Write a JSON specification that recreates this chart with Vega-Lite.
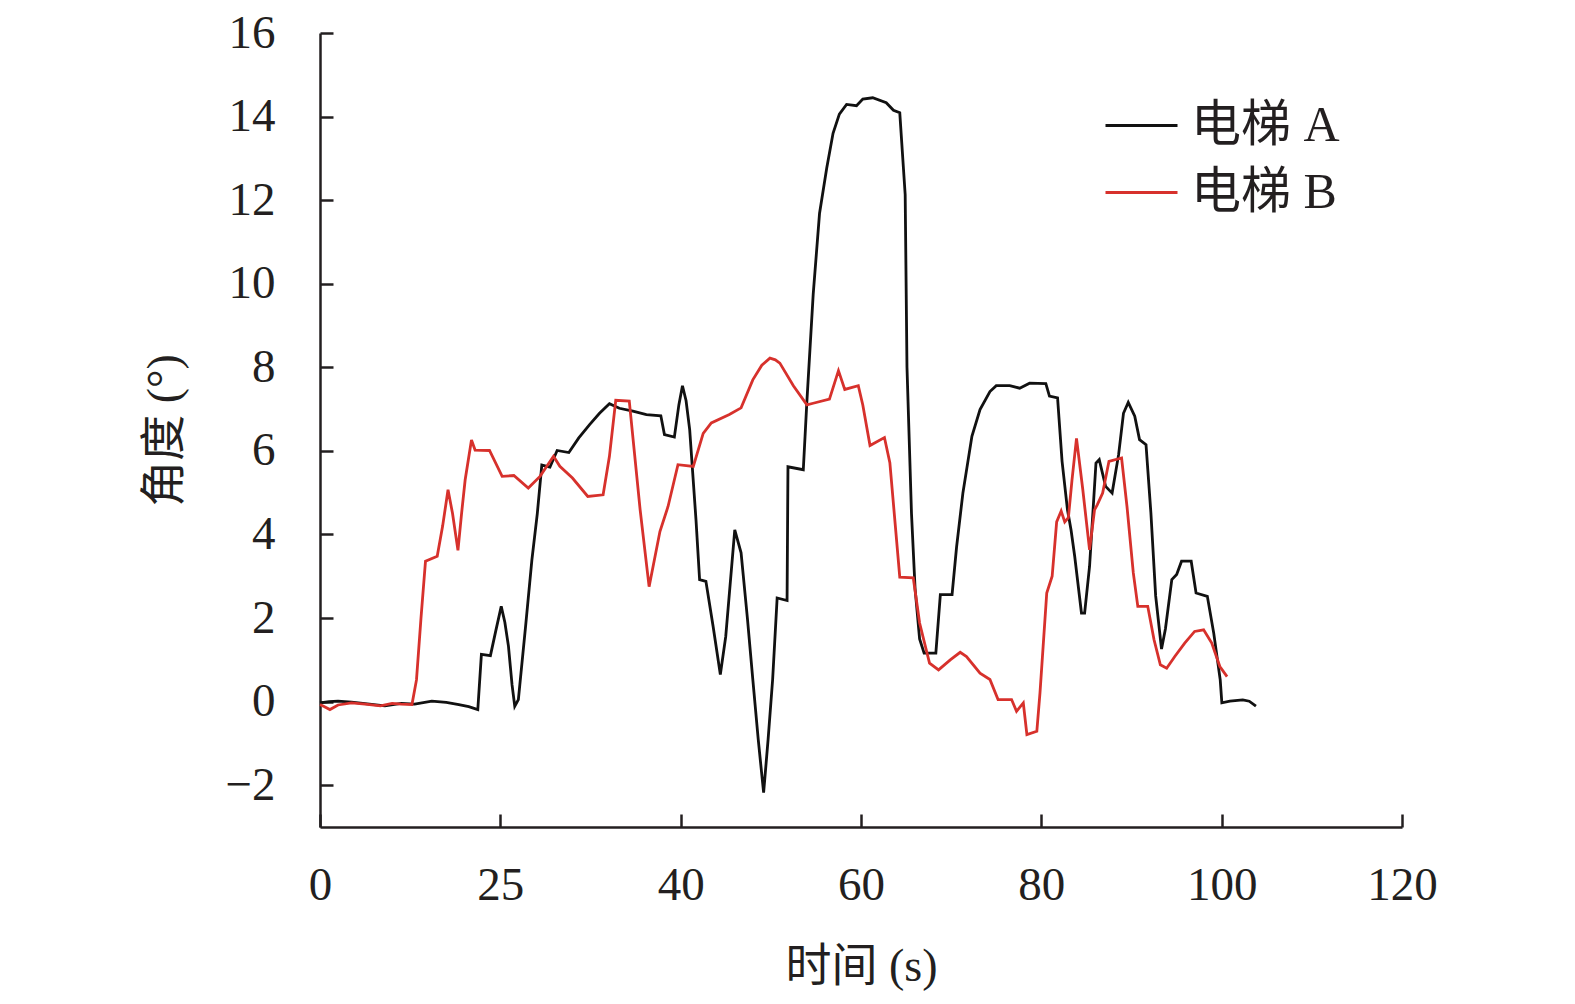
{
  "$schema": "https://vega.github.io/schema/vega-lite/v6.json",
  "width": 1082,
  "height": 794,
  "autosize": "none",
  "padding": {"left": 320, "top": 33, "right": 173, "bottom": 177},
  "background": "white",
  "config": {
    "view": {"stroke": null},
    "font": "Liberation Serif, Noto Sans CJK SC",
    "axis": {
      "grid": false,
      "domainColor": "#231f20",
      "domainWidth": 2.5,
      "tickColor": "#231f20",
      "tickWidth": 2.5,
      "tickSize": -13,
      "labelFont": "Liberation Serif, Noto Sans CJK SC",
      "labelFontSize": 47,
      "labelColor": "#231f20",
      "labelFlush": false,
      "titleFont": "Liberation Serif, Noto Sans CJK SC",
      "titleFontSize": 46,
      "titleFontWeight": "normal",
      "titleColor": "#231f20"
    },
    "legend": {
      "labelFont": "Liberation Serif, Noto Sans CJK SC",
      "labelFontSize": 50,
      "labelColor": "#231f20"
    }
  },
  "data": {
    "values": [
      {"t": 0, "v": -0.03, "s": "电梯 A"},
      {"t": 1.0, "v": 0.0, "s": "电梯 A"},
      {"t": 2.0, "v": 0.01, "s": "电梯 A"},
      {"t": 3.5, "v": -0.01, "s": "电梯 A"},
      {"t": 5.0, "v": -0.05, "s": "电梯 A"},
      {"t": 7.2, "v": -0.1, "s": "电梯 A"},
      {"t": 9.0, "v": -0.04, "s": "电梯 A"},
      {"t": 10.5, "v": -0.06, "s": "电梯 A"},
      {"t": 12.4, "v": 0.01, "s": "电梯 A"},
      {"t": 14.0, "v": -0.02, "s": "电梯 A"},
      {"t": 15.4, "v": -0.07, "s": "电梯 A"},
      {"t": 16.5, "v": -0.12, "s": "电梯 A"},
      {"t": 17.5, "v": -0.19, "s": "电梯 A"},
      {"t": 17.9, "v": 1.13, "s": "电梯 A"},
      {"t": 18.9, "v": 1.1, "s": "电梯 A"},
      {"t": 19.5, "v": 1.7, "s": "电梯 A"},
      {"t": 20.1, "v": 2.28, "s": "电梯 A"},
      {"t": 20.5, "v": 1.9, "s": "电梯 A"},
      {"t": 20.9, "v": 1.33, "s": "电梯 A"},
      {"t": 21.3, "v": 0.4, "s": "电梯 A"},
      {"t": 21.6, "v": -0.11, "s": "电梯 A"},
      {"t": 22.0, "v": 0.05, "s": "电梯 A"},
      {"t": 22.8, "v": 1.8, "s": "电梯 A"},
      {"t": 23.5, "v": 3.39, "s": "电梯 A"},
      {"t": 24.1, "v": 4.5, "s": "电梯 A"},
      {"t": 24.6, "v": 5.66, "s": "电梯 A"},
      {"t": 25.5, "v": 5.61, "s": "电梯 A"},
      {"t": 26.3, "v": 6.01, "s": "电梯 A"},
      {"t": 27.6, "v": 5.96, "s": "电梯 A"},
      {"t": 28.7, "v": 6.31, "s": "电梯 A"},
      {"t": 29.9, "v": 6.63, "s": "电梯 A"},
      {"t": 31.0, "v": 6.9, "s": "电梯 A"},
      {"t": 32.1, "v": 7.13, "s": "电梯 A"},
      {"t": 33.2, "v": 7.02, "s": "电梯 A"},
      {"t": 34.7, "v": 6.95, "s": "电梯 A"},
      {"t": 36.2, "v": 6.87, "s": "电梯 A"},
      {"t": 37.8, "v": 6.84, "s": "电梯 A"},
      {"t": 38.2, "v": 6.39, "s": "电梯 A"},
      {"t": 39.3, "v": 6.33, "s": "电梯 A"},
      {"t": 39.8, "v": 7.1, "s": "电梯 A"},
      {"t": 40.2, "v": 7.56, "s": "电梯 A"},
      {"t": 40.6, "v": 7.2, "s": "电梯 A"},
      {"t": 41.0, "v": 6.51, "s": "电梯 A"},
      {"t": 41.7, "v": 4.35, "s": "电梯 A"},
      {"t": 42.1, "v": 2.92, "s": "电梯 A"},
      {"t": 42.8, "v": 2.88, "s": "电梯 A"},
      {"t": 43.6, "v": 1.8, "s": "电梯 A"},
      {"t": 44.4, "v": 0.65, "s": "电梯 A"},
      {"t": 45.0, "v": 1.56, "s": "电梯 A"},
      {"t": 46.0, "v": 4.11, "s": "电梯 A"},
      {"t": 46.7, "v": 3.56, "s": "电梯 A"},
      {"t": 47.4, "v": 2.0, "s": "电梯 A"},
      {"t": 48.0, "v": 0.53, "s": "电梯 A"},
      {"t": 48.6, "v": -0.9, "s": "电梯 A"},
      {"t": 49.2, "v": -2.18, "s": "电梯 A"},
      {"t": 49.7, "v": -0.9, "s": "电梯 A"},
      {"t": 50.2, "v": 0.53, "s": "电梯 A"},
      {"t": 50.7, "v": 2.48, "s": "电梯 A"},
      {"t": 51.8, "v": 2.42, "s": "电梯 A"},
      {"t": 51.9, "v": 5.62, "s": "电梯 A"},
      {"t": 53.6, "v": 5.55, "s": "电梯 A"},
      {"t": 54.0, "v": 7.19, "s": "电梯 A"},
      {"t": 54.7, "v": 9.75, "s": "电梯 A"},
      {"t": 55.4, "v": 11.68, "s": "电梯 A"},
      {"t": 56.2, "v": 12.77, "s": "电梯 A"},
      {"t": 56.9, "v": 13.6, "s": "电梯 A"},
      {"t": 57.6, "v": 14.06, "s": "电梯 A"},
      {"t": 58.4, "v": 14.29, "s": "电梯 A"},
      {"t": 59.5, "v": 14.26, "s": "电梯 A"},
      {"t": 60.2, "v": 14.42, "s": "电梯 A"},
      {"t": 61.3, "v": 14.45, "s": "电梯 A"},
      {"t": 62.8, "v": 14.33, "s": "电梯 A"},
      {"t": 63.6, "v": 14.15, "s": "电梯 A"},
      {"t": 64.3, "v": 14.09, "s": "电梯 A"},
      {"t": 64.9, "v": 12.13, "s": "电梯 A"},
      {"t": 65.1, "v": 8.0, "s": "电梯 A"},
      {"t": 65.6, "v": 4.5, "s": "电梯 A"},
      {"t": 66.0, "v": 2.7, "s": "电梯 A"},
      {"t": 66.5, "v": 1.5, "s": "电梯 A"},
      {"t": 67.0, "v": 1.16, "s": "电梯 A"},
      {"t": 68.3, "v": 1.16, "s": "电梯 A"},
      {"t": 68.8, "v": 2.56, "s": "电梯 A"},
      {"t": 70.1, "v": 2.56, "s": "电梯 A"},
      {"t": 70.6, "v": 3.7, "s": "电梯 A"},
      {"t": 71.3, "v": 4.99, "s": "电梯 A"},
      {"t": 72.3, "v": 6.35, "s": "电梯 A"},
      {"t": 73.2, "v": 6.99, "s": "电梯 A"},
      {"t": 74.3, "v": 7.42, "s": "电梯 A"},
      {"t": 75.0, "v": 7.56, "s": "电梯 A"},
      {"t": 76.5, "v": 7.56, "s": "电梯 A"},
      {"t": 77.6, "v": 7.5, "s": "电梯 A"},
      {"t": 78.7, "v": 7.62, "s": "电梯 A"},
      {"t": 80.5, "v": 7.61, "s": "电梯 A"},
      {"t": 80.9, "v": 7.31, "s": "电梯 A"},
      {"t": 81.8, "v": 7.27, "s": "电梯 A"},
      {"t": 82.3, "v": 5.75, "s": "电梯 A"},
      {"t": 82.9, "v": 4.59, "s": "电梯 A"},
      {"t": 83.3, "v": 4.1, "s": "电梯 A"},
      {"t": 83.7, "v": 3.48, "s": "电梯 A"},
      {"t": 84.45, "v": 2.12, "s": "电梯 A"},
      {"t": 84.8, "v": 2.12, "s": "电梯 A"},
      {"t": 85.35, "v": 3.24, "s": "电梯 A"},
      {"t": 86.06, "v": 5.71, "s": "电梯 A"},
      {"t": 86.42, "v": 5.79, "s": "电梯 A"},
      {"t": 87.13, "v": 5.15, "s": "电梯 A"},
      {"t": 87.85, "v": 4.99, "s": "电梯 A"},
      {"t": 88.57, "v": 5.91, "s": "电梯 A"},
      {"t": 89.11, "v": 6.9, "s": "电梯 A"},
      {"t": 89.64, "v": 7.16, "s": "电梯 A"},
      {"t": 90.36, "v": 6.83, "s": "电梯 A"},
      {"t": 90.89, "v": 6.27, "s": "电梯 A"},
      {"t": 91.61, "v": 6.15, "s": "电梯 A"},
      {"t": 92.15, "v": 4.52, "s": "电梯 A"},
      {"t": 92.68, "v": 2.53, "s": "电梯 A"},
      {"t": 93.33, "v": 1.26, "s": "电梯 A"},
      {"t": 93.76, "v": 1.74, "s": "电梯 A"},
      {"t": 94.47, "v": 2.92, "s": "电梯 A"},
      {"t": 95.01, "v": 3.04, "s": "电梯 A"},
      {"t": 95.55, "v": 3.36, "s": "电梯 A"},
      {"t": 96.62, "v": 3.36, "s": "电梯 A"},
      {"t": 97.16, "v": 2.6, "s": "电梯 A"},
      {"t": 98.41, "v": 2.52, "s": "电梯 A"},
      {"t": 99.12, "v": 1.64, "s": "电梯 A"},
      {"t": 99.84, "v": 0.52, "s": "电梯 A"},
      {"t": 100.02, "v": -0.03, "s": "电梯 A"},
      {"t": 100.91, "v": 0.01, "s": "电梯 A"},
      {"t": 102.34, "v": 0.04, "s": "电梯 A"},
      {"t": 103.06, "v": 0.01, "s": "电梯 A"},
      {"t": 103.8, "v": -0.11, "s": "电梯 A"},

      {"t": 0, "v": -0.07, "s": "电梯 B"},
      {"t": 0.5, "v": -0.12, "s": "电梯 B"},
      {"t": 1.1, "v": -0.19, "s": "电梯 B"},
      {"t": 2.0, "v": -0.08, "s": "电梯 B"},
      {"t": 3.5, "v": -0.03, "s": "电梯 B"},
      {"t": 5.0, "v": -0.06, "s": "电梯 B"},
      {"t": 6.7, "v": -0.1, "s": "电梯 B"},
      {"t": 8.0, "v": -0.04, "s": "电梯 B"},
      {"t": 9.0, "v": -0.06, "s": "电梯 B"},
      {"t": 10.2, "v": -0.07, "s": "电梯 B"},
      {"t": 10.7, "v": 0.52, "s": "电梯 B"},
      {"t": 11.2, "v": 2.0, "s": "电梯 B"},
      {"t": 11.7, "v": 3.36, "s": "电梯 B"},
      {"t": 13.0, "v": 3.48, "s": "电梯 B"},
      {"t": 13.6, "v": 4.2, "s": "电梯 B"},
      {"t": 14.2, "v": 5.07, "s": "电梯 B"},
      {"t": 14.7, "v": 4.5, "s": "电梯 B"},
      {"t": 15.3, "v": 3.62, "s": "电梯 B"},
      {"t": 15.7, "v": 4.5, "s": "电梯 B"},
      {"t": 16.1, "v": 5.31, "s": "电梯 B"},
      {"t": 16.8, "v": 6.26, "s": "电梯 B"},
      {"t": 17.2, "v": 6.02, "s": "电梯 B"},
      {"t": 18.8, "v": 6.01, "s": "电梯 B"},
      {"t": 20.2, "v": 5.39, "s": "电梯 B"},
      {"t": 21.5, "v": 5.41, "s": "电梯 B"},
      {"t": 23.1, "v": 5.11, "s": "电梯 B"},
      {"t": 24.4, "v": 5.39, "s": "电梯 B"},
      {"t": 25.9, "v": 5.87, "s": "电梯 B"},
      {"t": 26.6, "v": 5.63, "s": "电梯 B"},
      {"t": 28.0, "v": 5.35, "s": "电梯 B"},
      {"t": 29.7, "v": 4.91, "s": "电梯 B"},
      {"t": 31.4, "v": 4.95, "s": "电梯 B"},
      {"t": 32.1, "v": 5.87, "s": "电梯 B"},
      {"t": 32.8, "v": 7.21, "s": "电梯 B"},
      {"t": 34.3, "v": 7.19, "s": "电梯 B"},
      {"t": 35.5, "v": 4.6, "s": "电梯 B"},
      {"t": 36.5, "v": 2.75, "s": "电梯 B"},
      {"t": 37.7, "v": 4.07, "s": "电梯 B"},
      {"t": 38.6, "v": 4.67, "s": "电梯 B"},
      {"t": 39.7, "v": 5.67, "s": "电梯 B"},
      {"t": 41.4, "v": 5.63, "s": "电梯 B"},
      {"t": 42.5, "v": 6.42, "s": "电梯 B"},
      {"t": 43.4, "v": 6.67, "s": "电梯 B"},
      {"t": 45.4, "v": 6.87, "s": "电梯 B"},
      {"t": 46.7, "v": 7.03, "s": "电梯 B"},
      {"t": 48.0, "v": 7.7, "s": "电梯 B"},
      {"t": 49.0, "v": 8.05, "s": "电梯 B"},
      {"t": 49.9, "v": 8.22, "s": "电梯 B"},
      {"t": 50.5, "v": 8.18, "s": "电梯 B"},
      {"t": 51.0, "v": 8.1, "s": "电梯 B"},
      {"t": 52.5, "v": 7.56, "s": "电梯 B"},
      {"t": 54.0, "v": 7.1, "s": "电梯 B"},
      {"t": 54.7, "v": 7.14, "s": "电梯 B"},
      {"t": 56.5, "v": 7.24, "s": "电梯 B"},
      {"t": 57.5, "v": 7.92, "s": "电梯 B"},
      {"t": 58.2, "v": 7.47, "s": "电梯 B"},
      {"t": 59.7, "v": 7.56, "s": "电梯 B"},
      {"t": 60.2, "v": 7.1, "s": "电梯 B"},
      {"t": 61.0, "v": 6.13, "s": "电梯 B"},
      {"t": 62.6, "v": 6.32, "s": "电梯 B"},
      {"t": 63.2, "v": 5.72, "s": "电梯 B"},
      {"t": 64.3, "v": 2.98, "s": "电梯 B"},
      {"t": 65.8, "v": 2.96, "s": "电梯 B"},
      {"t": 66.5, "v": 1.88, "s": "电梯 B"},
      {"t": 67.6, "v": 0.92, "s": "电梯 B"},
      {"t": 68.6, "v": 0.76, "s": "电梯 B"},
      {"t": 69.9, "v": 1.0, "s": "电梯 B"},
      {"t": 71.0, "v": 1.18, "s": "电梯 B"},
      {"t": 71.7, "v": 1.08, "s": "电梯 B"},
      {"t": 73.2, "v": 0.68, "s": "电梯 B"},
      {"t": 74.3, "v": 0.53, "s": "电梯 B"},
      {"t": 75.2, "v": 0.05, "s": "电梯 B"},
      {"t": 76.7, "v": 0.05, "s": "电梯 B"},
      {"t": 77.25, "v": -0.23, "s": "电梯 B"},
      {"t": 78.0, "v": -0.03, "s": "电梯 B"},
      {"t": 78.4, "v": -0.79, "s": "电梯 B"},
      {"t": 79.5, "v": -0.71, "s": "电梯 B"},
      {"t": 79.85, "v": 0.21, "s": "电梯 B"},
      {"t": 80.2, "v": 1.32, "s": "电梯 B"},
      {"t": 80.6, "v": 2.6, "s": "电梯 B"},
      {"t": 81.2, "v": 3.0, "s": "电梯 B"},
      {"t": 81.7, "v": 4.3, "s": "电梯 B"},
      {"t": 82.2, "v": 4.56, "s": "电梯 B"},
      {"t": 82.6, "v": 4.3, "s": "电梯 B"},
      {"t": 83.0, "v": 4.4, "s": "电梯 B"},
      {"t": 83.4, "v": 5.3, "s": "电梯 B"},
      {"t": 83.9, "v": 6.3, "s": "电梯 B"},
      {"t": 84.6, "v": 5.07, "s": "电梯 B"},
      {"t": 85.35, "v": 3.63, "s": "电梯 B"},
      {"t": 85.9, "v": 4.59, "s": "电梯 B"},
      {"t": 86.2, "v": 4.71, "s": "电梯 B"},
      {"t": 86.8, "v": 4.99, "s": "电梯 B"},
      {"t": 87.5, "v": 5.75, "s": "电梯 B"},
      {"t": 88.9, "v": 5.83, "s": "电梯 B"},
      {"t": 89.5, "v": 4.67, "s": "电梯 B"},
      {"t": 90.2, "v": 3.08, "s": "电梯 B"},
      {"t": 90.7, "v": 2.28, "s": "电梯 B"},
      {"t": 91.8, "v": 2.28, "s": "电梯 B"},
      {"t": 92.5, "v": 1.48, "s": "电梯 B"},
      {"t": 93.2, "v": 0.88, "s": "电梯 B"},
      {"t": 93.9, "v": 0.8, "s": "电梯 B"},
      {"t": 94.8, "v": 1.08, "s": "电梯 B"},
      {"t": 95.9, "v": 1.4, "s": "电梯 B"},
      {"t": 97.0, "v": 1.68, "s": "电梯 B"},
      {"t": 98.0, "v": 1.72, "s": "电梯 B"},
      {"t": 98.9, "v": 1.4, "s": "电梯 B"},
      {"t": 99.8, "v": 0.84, "s": "电梯 B"},
      {"t": 100.6, "v": 0.6, "s": "电梯 B"}
    ]
  },
  "mark": {"type": "line", "strokeWidth": 2.8, "interpolate": "linear"},
  "encoding": {
    "x": {
      "field": "t",
      "type": "quantitative",
      "title": "时间 (s)",
      "scale": {"domain": [0, 120], "nice": false, "zero": false},
      "axis": {
        "values": [0, 20, 40, 60, 80, 100, 120],
        "labelExpr": "datum.value == 20 ? '25' : datum.label",
        "labelPadding": 48,
        "titlePadding": 36
      }
    },
    "y": {
      "field": "v",
      "type": "quantitative",
      "title": "角度 (°)",
      "scale": {"domain": [-3, 16], "nice": false, "zero": false},
      "axis": {
        "values": [-2, 0, 2, 4, 6, 8, 10, 12, 14, 16],
        "labelPadding": 58,
        "titlePadding": 36
      }
    },
    "color": {
      "field": "s",
      "type": "nominal",
      "scale": {"domain": ["电梯 A", "电梯 B"], "range": ["#111111", "#d7312c"]},
      "legend": {
        "title": null,
        "orient": "none",
        "legendX": 784,
        "legendY": 55,
        "padding": 0,
        "symbolType": "stroke",
        "symbolSize": 5184,
        "symbolStrokeWidth": 2.8,
        "labelOffset": 12,
        "rowPadding": 4
      }
    },
    "order": {"field": "t", "type": "quantitative"}
  }
}
